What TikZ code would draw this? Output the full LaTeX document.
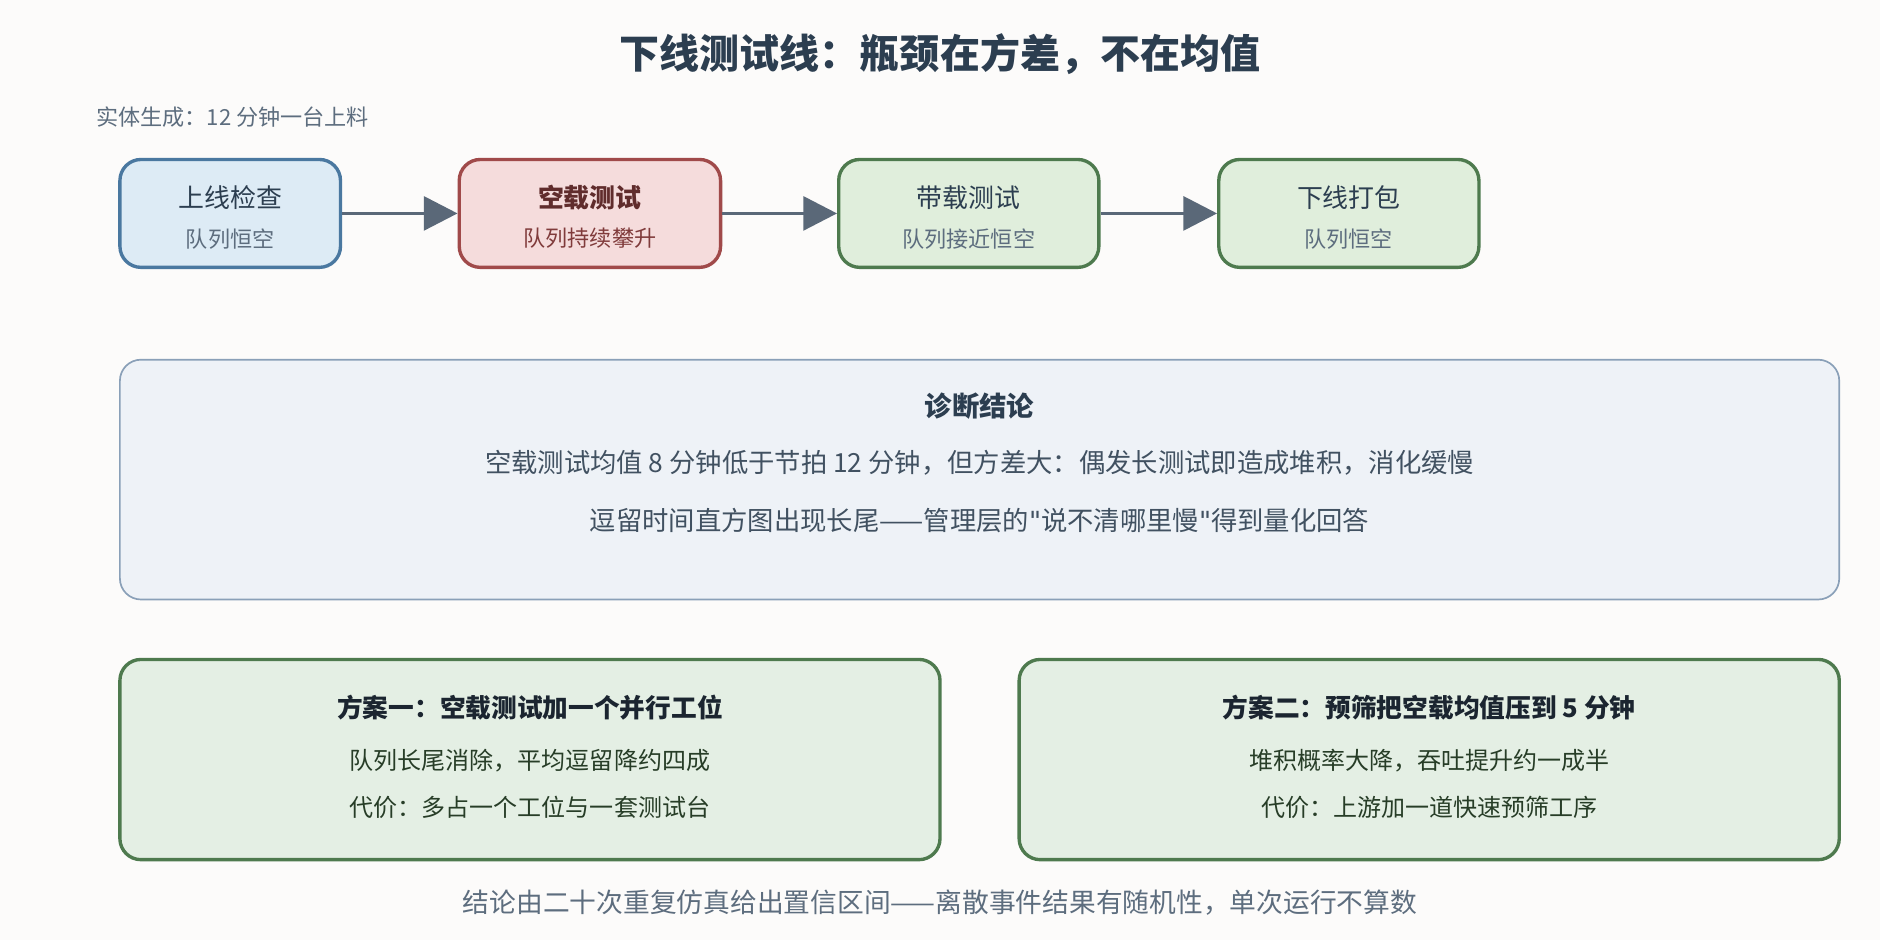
\documentclass[tikz,border=0pt]{standalone}
\usepackage{fontspec}
\setmainfont{Noto Sans CJK SC}
\newfontfamily\quotefont{DejaVu Sans}
\usetikzlibrary{arrows.meta}
\definecolor{bgc}{HTML}{FCFBFA}
\definecolor{ink}{HTML}{2C3E50}
\definecolor{grey}{HTML}{5D6D7E}
\definecolor{arr}{HTML}{5A6878}
\definecolor{bluef}{HTML}{DDEBF5}\definecolor{blued}{HTML}{4A78A0}
\definecolor{redf}{HTML}{F5DCDC}\definecolor{redd}{HTML}{A04A4A}
\definecolor{greenf}{HTML}{E0EEDC}\definecolor{greend}{HTML}{4E7A4E}
\definecolor{diagf}{HTML}{EEF2F7}\definecolor{diagd}{HTML}{8AA0B8}
\definecolor{optf}{HTML}{E4EFE4}
\newcommand{\sq}{{\quotefont\symbol{34}}}
\begin{document}
\begin{tikzpicture}[x=0.02cm,y=-0.02cm]
  \tikzset{stage/.style={draw, line width=1.6pt, rounded corners=10pt, minimum width=3.68cm, minimum height=1.8cm},
           flow/.style={line width=1.8pt, draw=arr, -{Triangle[length=16pt,width=16pt]}},
           panel/.style={draw, rounded corners=10pt, inner sep=0pt}}
%% Canvas
	\fill[bgc] (0,0) rectangle (1568,784);
	\node[font=\bfseries\fontsize{19}{23}\selectfont, text=ink] (title) at (784,45) {下线测试线：瓶颈在方差，不在均值};
	\node[font=\fontsize{10.5}{12}\selectfont, text=grey, anchor=west] (source) at (74,98) {实体生成：12 分钟一台上料};
%% Stages
	\node[stage, fill=bluef, draw=blued] (s1) at (192,178) {};
	\node[stage, fill=redf, draw=redd, minimum width=4.36cm] (s2) at (492,178) {};
	\node[stage, fill=greenf, draw=greend, minimum width=4.34cm] (s3) at (808,178) {};
	\node[stage, fill=greenf, draw=greend, minimum width=4.34cm] (s4) at (1125,178) {};
	\node[font=\fontsize{12.3}{14}\selectfont, text=ink] at (192,165) {上线检查};
	\node[font=\fontsize{10.5}{12}\selectfont, text=grey] at (192,199) {队列恒空};
	\node[font=\bfseries\fontsize{12.3}{14}\selectfont, text=redd!60!black] at (492,165) {空载测试};
	\node[font=\fontsize{10.5}{12}\selectfont, text=redd!80!black] at (492,199) {队列持续攀升};
	\node[font=\fontsize{12.3}{14}\selectfont, text=ink] at (808,165) {带载测试};
	\node[font=\fontsize{10.5}{12}\selectfont, text=grey] at (808,199) {队列接近恒空};
	\node[font=\fontsize{12.3}{14}\selectfont, text=ink] at (1125,165) {下线打包};
	\node[font=\fontsize{10.5}{12}\selectfont, text=grey] at (1125,199) {队列恒空};
%Flow
	\draw[flow] (s1) -- (s2);
	\draw[flow] (s2) -- (s3);
	\draw[flow] (s3) -- (s4);
%% Diagnosis
	\draw[panel, fill=diagf, draw=diagd, line width=0.8pt] (100,300) rectangle (1534,500);
	\node[font=\bfseries\fontsize{13}{15}\selectfont, text=ink] (diag) at (817,339) {诊断结论};
	\node[font=\fontsize{12.5}{15}\selectfont, text=ink!90] at (817,386) {空载测试均值 8 分钟低于节拍 12 分钟，但方差大：偶发长测试即造成堆积，消化缓慢};
	\node[font=\fontsize{12.5}{15}\selectfont, text=ink!90] at (817,434) {逗留时间直方图出现长尾——管理层的\sq 说不清哪里慢\sq 得到量化回答};
%% Options
	\draw[panel, fill=optf, draw=greend, line width=1.6pt] (100,550) rectangle (784,717);
	\draw[panel, fill=optf, draw=greend, line width=1.6pt] (850,550) rectangle (1534,717);
	\node[font=\bfseries\fontsize{12.2}{14}\selectfont, text=ink!60!black] (o1) at (442,590) {方案一：空载测试加一个并行工位};
	\node[font=\fontsize{11.4}{13}\selectfont, text=greend!50!black] at (442,634) {队列长尾消除，平均逗留降约四成};
	\node[font=\fontsize{11.4}{13}\selectfont, text=greend!50!black] at (442,673) {代价：多占一个工位与一套测试台};
	\node[font=\bfseries\fontsize{12.2}{14}\selectfont, text=ink!60!black] (o2) at (1192,590) {方案二：预筛把空载均值压到 5 分钟};
	\node[font=\fontsize{11.4}{13}\selectfont, text=greend!50!black] at (1192,634) {堆积概率大降，吞吐提升约一成半};
	\node[font=\fontsize{11.4}{13}\selectfont, text=greend!50!black] at (1192,673) {代价：上游加一道快速预筛工序};
	\node[font=\fontsize{12.7}{15}\selectfont, text=grey] (foot) at (784,753) {结论由二十次重复仿真给出置信区间——离散事件结果有随机性，单次运行不算数};
\end{tikzpicture}
\end{document}
